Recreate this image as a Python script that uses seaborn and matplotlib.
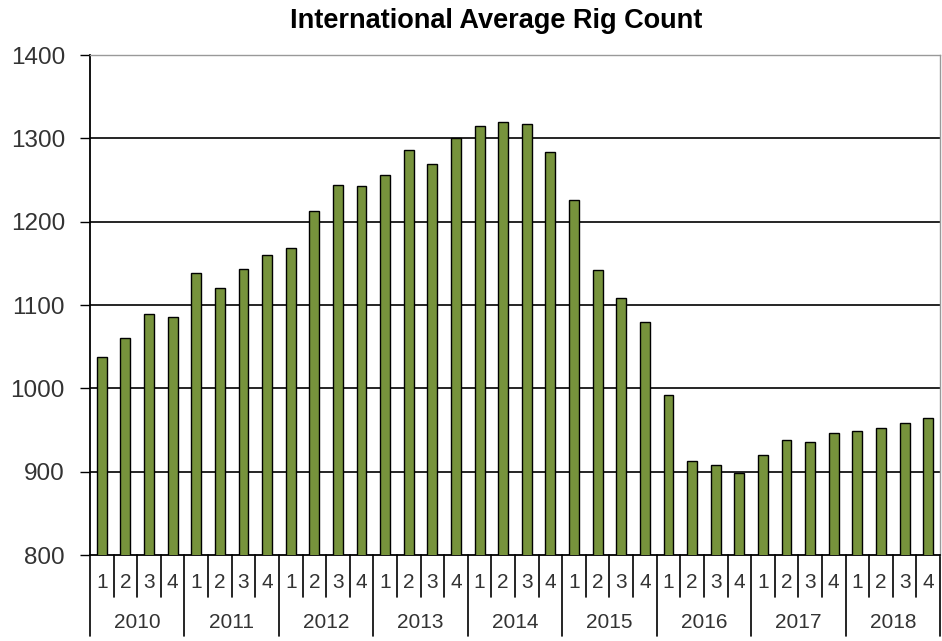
import matplotlib
matplotlib.use("Agg")
import matplotlib.pyplot as plt
import matplotlib.transforms as mtransforms
import seaborn as sns
import pandas as pd
import numpy as np

years = ["2010", "2011", "2012", "2013", "2014", "2015", "2016", "2017", "2018"]
quarters = ["1", "2", "3", "4"]
rig_counts = [
    1038, 1060, 1089, 1086,
    1138, 1120, 1143, 1160,
    1169, 1213, 1244, 1243,
    1256, 1286, 1269, 1301,
    1315, 1320, 1317, 1284,
    1226, 1142, 1109, 1080,
    992, 913, 908, 898,
    920, 938, 936, 947,
    949, 953, 958, 965,
]
y_ticks = [800, 900, 1000, 1100, 1200, 1300, 1400]
title = "International Average Rig Count"

periods = [f"{y} Q{q}" for y in years for q in quarters]
df = pd.DataFrame({"period": periods, "count": rig_counts})

sns.set_theme(style="white")
plt.rcParams["font.family"] = ["Liberation Sans", "DejaVu Sans"]

W, H = 942, 641
fig = plt.figure(figsize=(W / 100, H / 100), dpi=100)
ax = fig.add_axes([90 / W, (H - 555) / H, 850 / W, 500 / H])

sns.barplot(data=df, x="period", y="count", order=periods, color="#77933C",
            saturation=1, width=0.42, edgecolor="black", linewidth=1.0, ax=ax, zorder=3)

ax.set_ylim(800, 1400)
ax.set_xlim(-0.5, len(periods) - 0.5)
ax.set_yticks(y_ticks)
ax.set_yticklabels([str(t) for t in y_ticks], fontsize=17.5, color="#333333")
ax.tick_params(axis="y", which="major", direction="out", length=7, width=1,
               color="black", pad=11, left=True)
ax.tick_params(axis="x", bottom=False, labelbottom=False)
ax.set_xlabel("")
ax.set_ylabel("")

for t in y_ticks[1:-1]:
    ax.axhline(t, color="black", linewidth=1.2, zorder=1)

for side in ["top", "right"]:
    ax.spines[side].set_color("#999999")
    ax.spines[side].set_linewidth(1.0)
ax.spines["left"].set_color("black")
ax.spines["left"].set_linewidth(1.3)
ax.spines["bottom"].set_color("black")
ax.spines["bottom"].set_linewidth(1.3)

trans = mtransforms.blended_transform_factory(ax.transData, ax.transAxes)
n = len(periods)
for i in range(n + 1):
    xpos = i - 0.5
    bottom = -0.162 if i % 4 == 0 else -0.084
    ax.plot([xpos, xpos], [0, bottom], color="black", linewidth=1.2,
            transform=trans, clip_on=False)

for i, p in enumerate(periods):
    ax.text(i, -0.054, quarters[i % 4], transform=trans, ha="center", va="center",
            fontsize=15, color="#333333")

for j, y in enumerate(years):
    ax.text(4 * j + 1.5, -0.134, y, transform=trans, ha="center", va="center",
            fontsize=15, color="#333333")

fig.text(496 / W, 1 - 21 / H, title, ha="center", va="center",
         fontsize=19.5, fontweight="bold", color="black")

fig.savefig("out.png", dpi=100)
